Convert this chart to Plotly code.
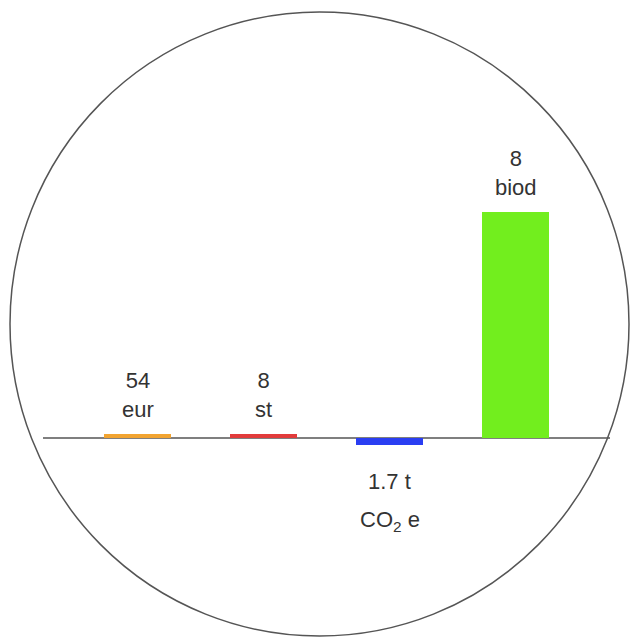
import plotly.graph_objects as go

# Data
categories = ["eur", "st", "co2", "biod"]
values = [0.018, 0.016, -0.031, 1.0]          # relative bar heights (green = 1)
value_labels = ["54<br>eur", "8<br>st", "1.7 t<br>CO<sub>2</sub> e", "8<br>biod"]
colors = ["#f2a431", "#e23b3b", "#2a3ef2", "#72ee1e"]

OFF = 8              # page body margin
W = H = 639 - OFF
FONT = dict(size=22, color="#333333", family="Liberation Sans, Arial, sans-serif")

fig = go.Figure()
xs = list(range(len(categories)))
fig.add_trace(go.Bar(
    x=xs, y=values, width=0.532, marker=dict(color=colors, line=dict(width=0)),
    hoverinfo="skip", showlegend=False,
))

for i, (v, t) in enumerate(zip(values, value_labels)):
    if v >= 0:
        fig.add_annotation(x=i, y=v, text=t, showarrow=False, yanchor="bottom",
                           yshift=10, font=FONT)
    else:
        for k, line in enumerate(t.split("<br>")):
            fig.add_annotation(x=i, y=v, text=line, showarrow=False, yanchor="top",
                               yshift=-22 - 38 * k, font=FONT)

# baseline
fig.add_shape(type="line", xref="paper", yref="y", x0=(43 - OFF) / W, x1=(610 - OFF) / W,
              y0=0, y1=0, line=dict(color="#555555", width=1.6), layer="below")
# circle
fig.add_shape(type="circle", xref="paper", yref="paper",
              x0=(10 - OFF) / W, x1=(629 - OFF) / W,
              y0=1 - (636 - OFF) / H, y1=1 - (12 - OFF) / H,
              line=dict(color="#555555", width=1.5))

cx0 = 137.5 - OFF
base = 438 - OFF
fig.update_layout(
    width=W, height=H, margin=dict(l=0, r=0, t=0, b=0),
    plot_bgcolor="white", paper_bgcolor="white",
    xaxis=dict(range=[-cx0 / 126, (W - cx0) / 126], visible=False, fixedrange=True),
    yaxis=dict(range=[-(H - base) / 226, base / 226], visible=False, fixedrange=True),
    bargap=0,
)
fig.write_html("out.html")
